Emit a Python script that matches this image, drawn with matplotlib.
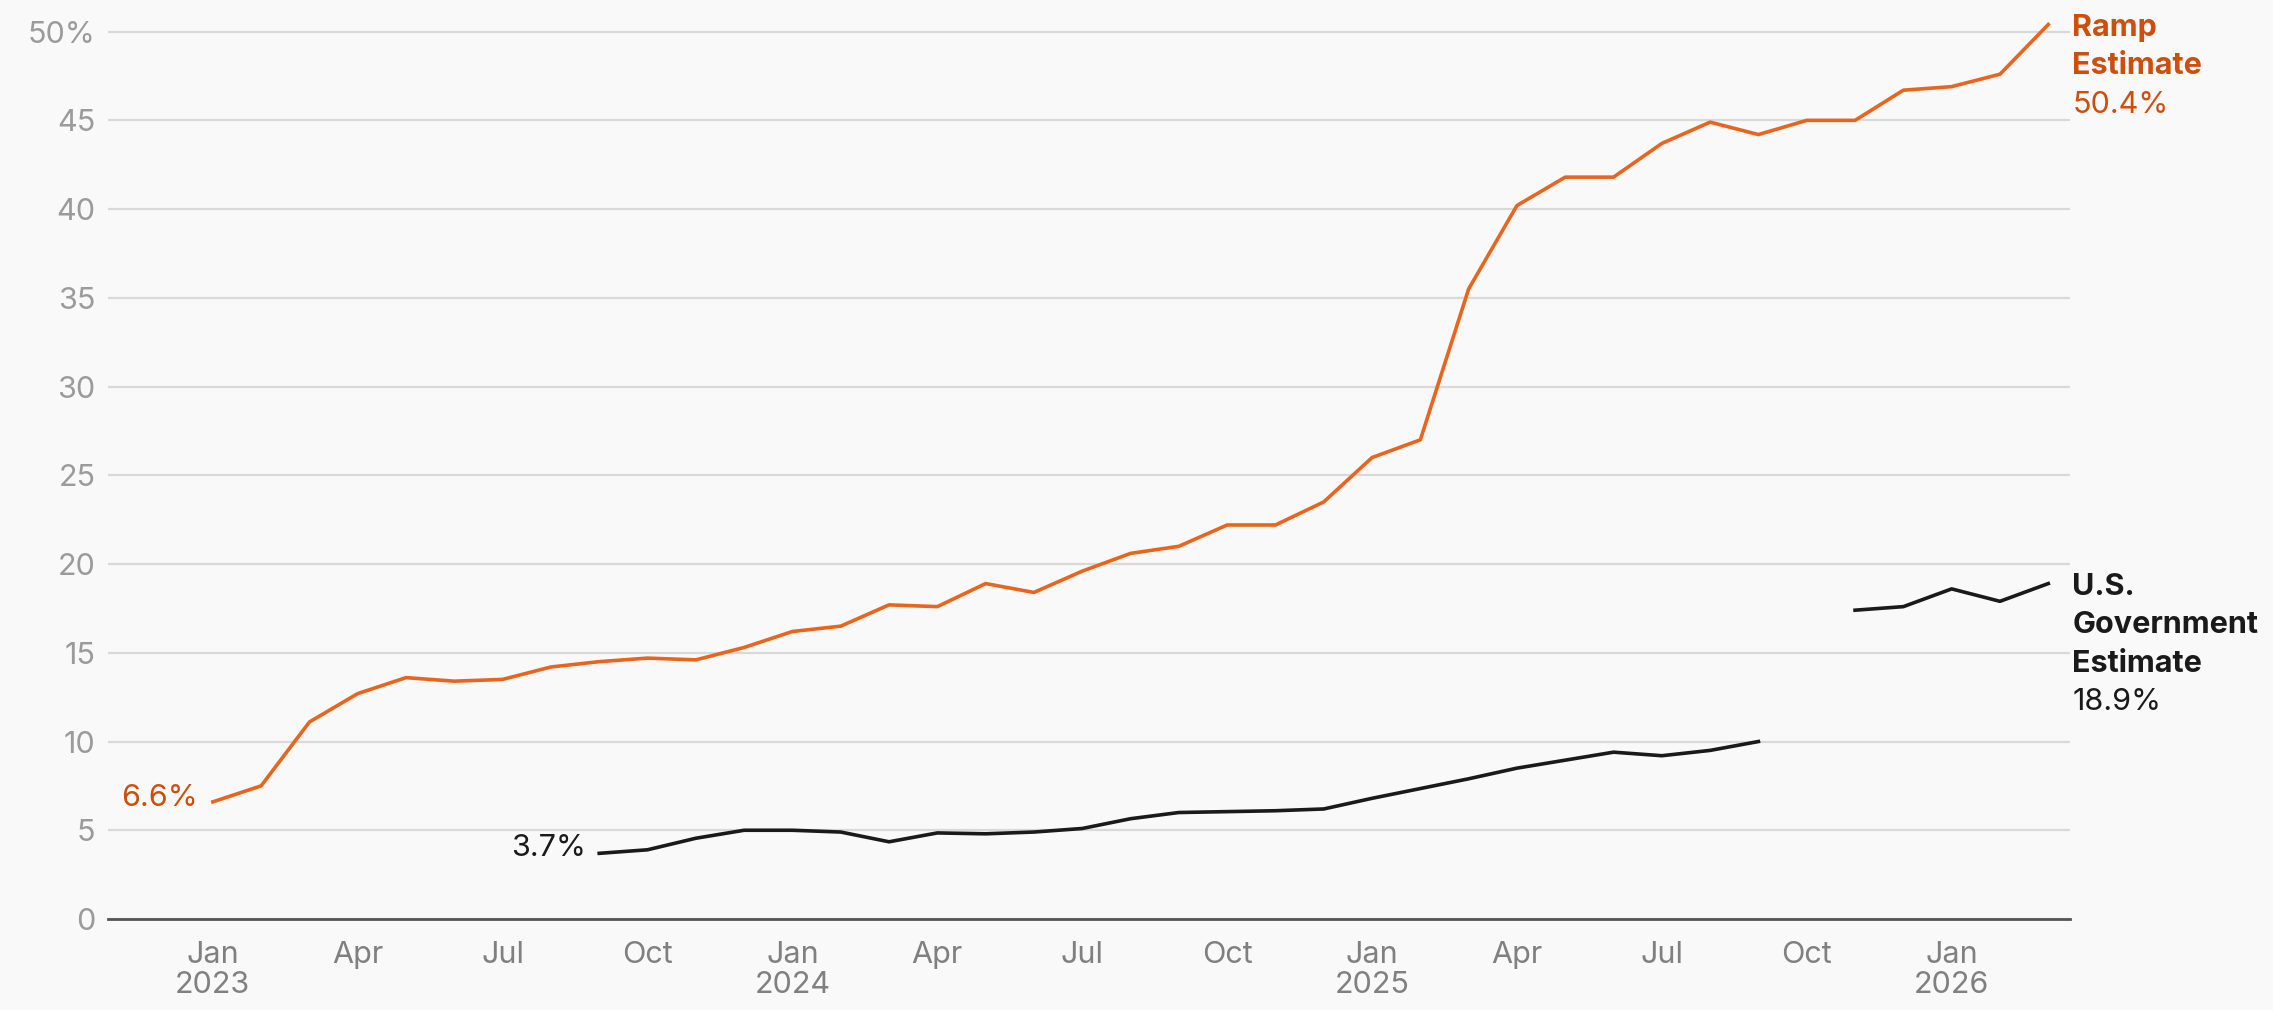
import matplotlib.pyplot as plt
import numpy as np

plt.rcParams['font.family'] = ['Inter', 'Liberation Sans', 'DejaVu Sans']

# monthly values, Jan 2023 .. Mar 2026
ramp = [6.6, 7.5, 11.1, 12.7, 13.6, 13.4, 13.5, 14.2, 14.5, 14.7, 14.6, 15.3,
        16.2, 16.5, 17.7, 17.6, 18.9, 18.4, 19.6, 20.6, 21.0, 22.2, 22.2, 23.5,
        26.0, 27.0, 35.5, 40.2, 41.8, 41.8, 43.7, 44.9, 44.2, 45.0, 45.0, 46.7,
        46.9, 47.6, 50.4]
gov = [np.nan] * 8 + [
        3.7, 3.9, 4.55, 5.0,
        5.0, 4.9, 4.35, 4.85, 4.8, 4.9, 5.1, 5.65, 6.0, 6.05, 6.1, 6.2,
        6.8, 7.35, 7.9, 8.5, 8.95, 9.4, 9.2, 9.5, 10.0, np.nan, 17.4, 17.6,
        18.6, 17.9, 18.9]
gov = np.array(gov, dtype=float)

tick_pos = [0, 3, 6, 9, 12, 15, 18, 21, 24, 27, 30, 33, 36]
tick_labels = ['Jan\n2023', 'Apr', 'Jul', 'Oct', 'Jan\n2024', 'Apr', 'Jul', 'Oct',
               'Jan\n2025', 'Apr', 'Jul', 'Oct', 'Jan\n2026']
ytick_pos = [0, 5, 10, 15, 20, 25, 30, 35, 40, 45, 50]
ytick_labels = ['0', '5', '10', '15', '20', '25', '30', '35', '40', '45', '50%']

orange = '#E9651D'
orange_text = '#CD4F0E'
black = '#1A1A1A'
bg = '#F9F9F9'

fig = plt.figure(figsize=(22.73, 10.10), dpi=100, facecolor=bg)
ax = fig.add_axes([108 / 2273, 91 / 1010, (2070 - 108) / 2273, (919 - 5) / 1010])
ax.set_facecolor(bg)

x = np.arange(len(ramp))
ax.plot(x, ramp, color=orange, lw=2.6, zorder=3)
ax.plot(x, gov, color=black, lw=2.6, zorder=3)

ax.set_xlim(-2.17, 38.45)
ax.set_ylim(0, 51.5)

ax.set_yticks(ytick_pos)
ax.set_yticklabels(ytick_labels)
ax.set_xticks(tick_pos)
ax.set_xticklabels(tick_labels)
for lbl in ax.get_xticklabels():
    lbl.set_linespacing(1.1)

ax.yaxis.grid(True, color='#D9D9D9', lw=1.6)
ax.set_axisbelow(True)
for s in ax.spines.values():
    s.set_visible(False)
ax.axhline(0, color='#555555', lw=2, clip_on=False, zorder=2)

ax.tick_params(axis='y', length=0, pad=9, labelsize=22, labelcolor='#9B9B9B')
ax.tick_params(axis='x', length=0, pad=16, labelsize=22, labelcolor='#808080')

# start labels
ax.annotate('6.6%', xy=(0, ramp[0]), xytext=(-10.8, -2.9), textcoords='offset points',
            ha='right', va='baseline', fontsize=22, color=orange_text)
ax.annotate('3.7%', xy=(8, gov[8]), xytext=(-9.4, -2.2), textcoords='offset points',
            ha='right', va='baseline', fontsize=22, color=black)

# end labels
last = len(ramp) - 1
pitch = 27.7
for i, (txt, bold) in enumerate([('Ramp', True), ('Estimate', True), ('50.4%', False)]):
    ax.annotate(txt, xy=(last, ramp[last]), xytext=(17.3, -8 - i * pitch),
                textcoords='offset points', ha='left', va='baseline', fontsize=22,
                fontweight='bold' if bold else 'normal', color=orange_text,
                annotation_clip=False)
for i, (txt, bold) in enumerate([('U.S.', True), ('Government', True),
                                 ('Estimate', True), ('18.9%', False)]):
    ax.annotate(txt, xy=(last, gov[last]), xytext=(17.3, -8 - i * pitch),
                textcoords='offset points', ha='left', va='baseline', fontsize=22,
                fontweight='bold' if bold else 'normal', color=black,
                annotation_clip=False)

fig.savefig('out.png', dpi=100, facecolor=bg)
